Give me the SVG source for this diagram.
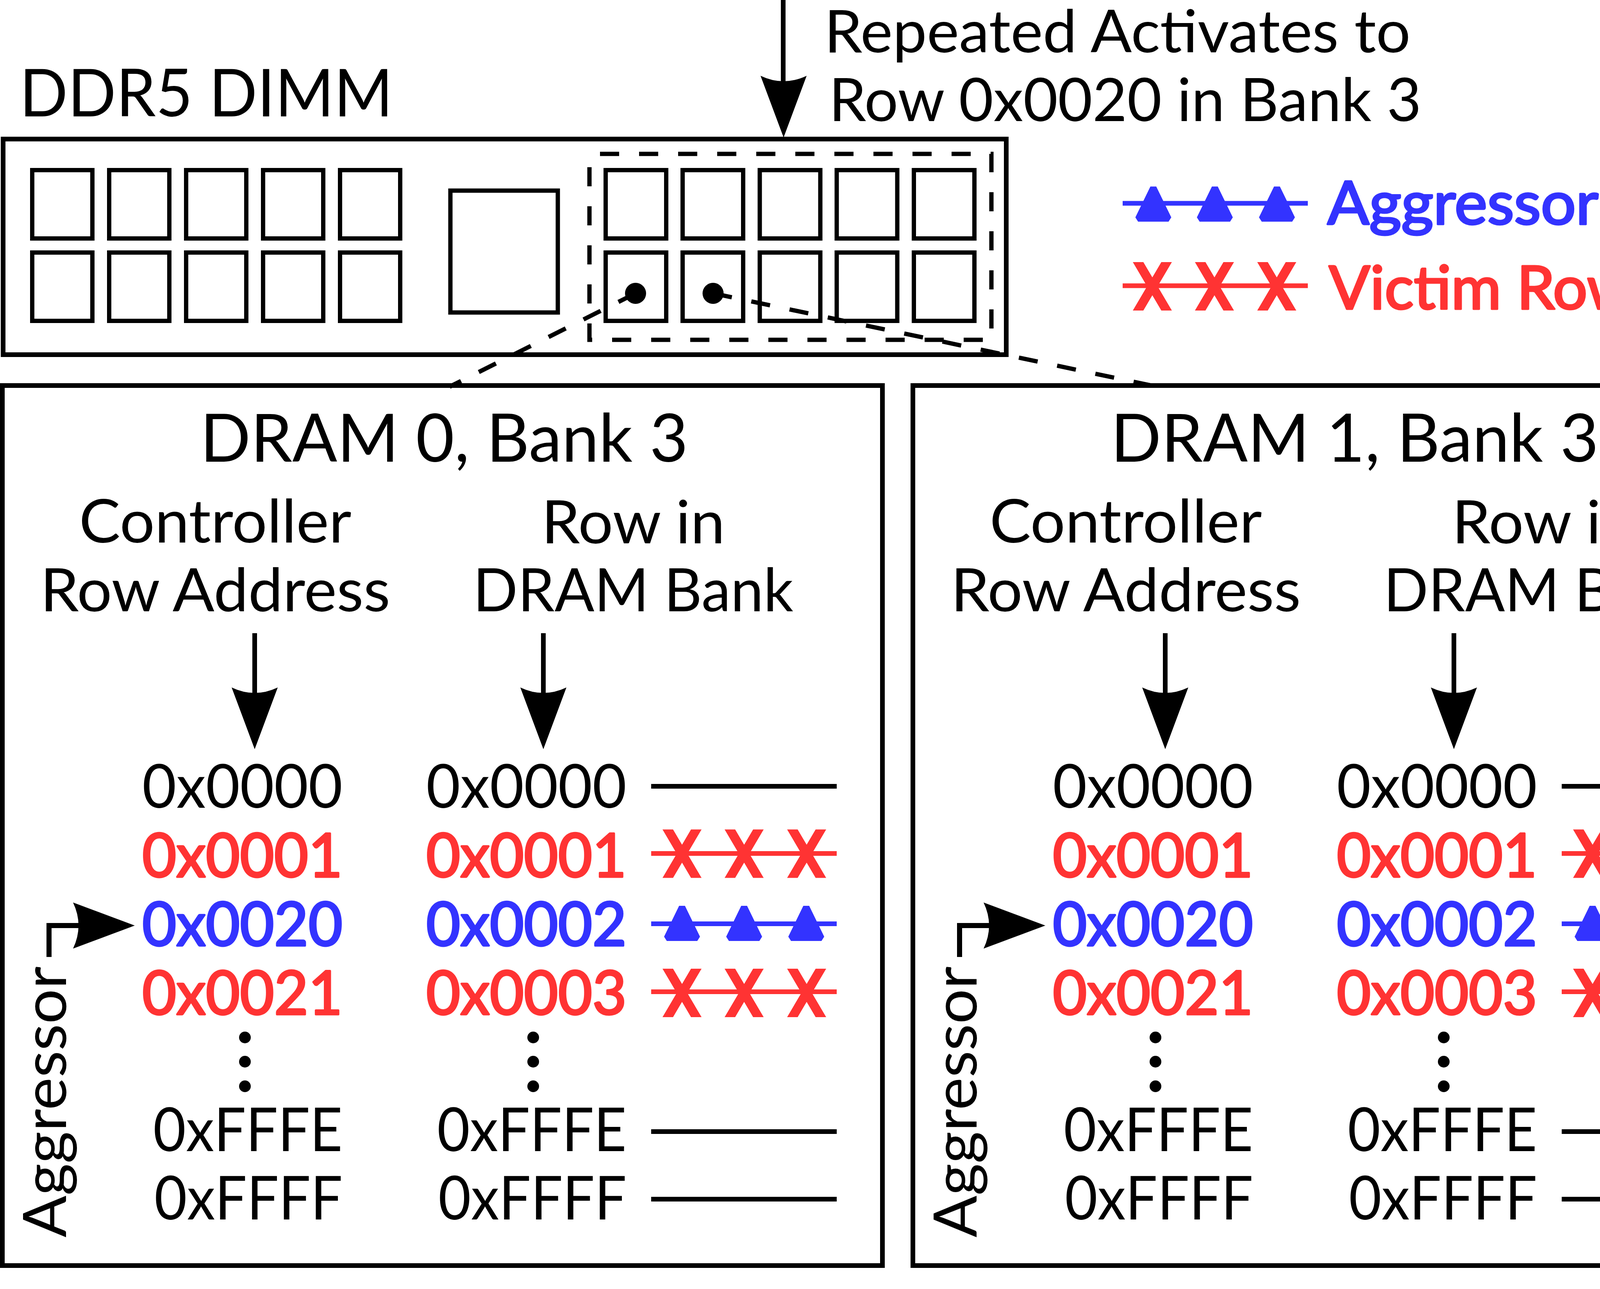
<svg xmlns="http://www.w3.org/2000/svg" xmlns:xlink="http://www.w3.org/1999/xlink" width="4608" height="3300" viewBox="0 0 4608 3300">
<style>
.t{font-family:Lato,"Open Sans","DejaVu Sans",sans-serif;fill:#000}
.r{fill:#FF3333;stroke:#FF3333;stroke-width:5;stroke-linejoin:round}
.b{fill:#3333FF;stroke:#3333FF;stroke-width:5;stroke-linejoin:round}
.box{fill:none;stroke:#000;stroke-width:12}
.chip{fill:none;stroke:#000;stroke-width:11}
.ln{fill:none;stroke:#000;stroke-width:12}
.dash{fill:none;stroke:#000;stroke-width:11;stroke-dasharray:49 51}
.rl{stroke:#FF3333;stroke-width:12}
.bl{stroke:#3333FF;stroke-width:12}
.hx{font-size:155px;text-anchor:end}
</style>
<defs>
<path id="ah" d="M0,0 L-59,-158 Q0,-130 59,-158 Z" fill="#000"/>
<path id="xm" d="M-50,-62 H-23 L50,62 H23 Z M23,-62 H50 L-23,62 H-50 Z" fill="#FF3333"/>
<path id="tri" d="M-7.5,-45 H7.5 L46,34 L39,45 H-39 L-46,34 Z" fill="#3333FF"/>
</defs>
<rect width="4608" height="3300" fill="#fff"/>

<g id="dimm-label">
<text class="t" x="50" y="298" font-size="169" textLength="956" lengthAdjust="spacingAndGlyphs">DDR5 DIMM</text>
</g>

<g id="activate-label">
<text class="t" x="2110" y="134" font-size="151" textLength="1501" lengthAdjust="spacingAndGlyphs">Repeated Activates to</text>
<text class="t" x="2122" y="310" font-size="153" textLength="1517" lengthAdjust="spacingAndGlyphs">Row 0x0020 in Bank 3</text>
</g>

<g id="dimm">
<rect class="box" x="8" y="356" width="2568" height="552"/>
<g id="chips-left">
<rect class="chip" x="82.5" y="435.5" width="154" height="175"/>
<rect class="chip" x="279.5" y="435.5" width="154" height="175"/>
<rect class="chip" x="476.5" y="435.5" width="154" height="175"/>
<rect class="chip" x="673.5" y="435.5" width="154" height="175"/>
<rect class="chip" x="870.5" y="435.5" width="154" height="175"/>
<rect class="chip" x="82.5" y="646.5" width="154" height="175"/>
<rect class="chip" x="279.5" y="646.5" width="154" height="175"/>
<rect class="chip" x="476.5" y="646.5" width="154" height="175"/>
<rect class="chip" x="673.5" y="646.5" width="154" height="175"/>
<rect class="chip" x="870.5" y="646.5" width="154" height="175"/>
</g>
<rect id="register" class="chip" x="1153" y="488" width="275" height="312"/>
<rect id="rank-box" class="dash" x="1509" y="394" width="1029" height="476" stroke-dashoffset="73"/>
<g id="chips-right">
<rect class="chip" x="1550.5" y="435.5" width="155" height="175"/>
<rect class="chip" x="1747.5" y="435.5" width="155" height="175"/>
<rect class="chip" x="1945" y="435.5" width="155" height="175"/>
<rect class="chip" x="2142" y="435.5" width="155" height="175"/>
<rect class="chip" x="2339.5" y="435.5" width="155" height="175"/>
<rect class="chip" x="1550.5" y="646.5" width="155" height="175"/>
<rect class="chip" x="1747.5" y="646.5" width="155" height="175"/>
<rect class="chip" x="1945" y="646.5" width="155" height="175"/>
<rect class="chip" x="2142" y="646.5" width="155" height="175"/>
<rect class="chip" x="2339.5" y="646.5" width="155" height="175"/>
</g>
<circle cx="1627" cy="751" r="27" fill="#000"/>
<circle cx="1825.5" cy="751" r="27" fill="#000"/>
</g>

<g id="legend-aggressor">
<line class="bl" x1="2874" y1="520.5" x2="3348" y2="520.5"/>
<use xlink:href="#tri" x="2952.5" y="522.5"/>
<use xlink:href="#tri" x="3110" y="522.5"/>
<use xlink:href="#tri" x="3269" y="522.5"/>
<text class="t b" x="3398" y="574" font-size="154" textLength="1038" lengthAdjust="spacingAndGlyphs">Aggressor Row</text>
</g>

<g id="legend-victim">
<line class="rl" x1="2874" y1="731.5" x2="3348" y2="731.5"/>
<use xlink:href="#xm" x="2950" y="733"/>
<use xlink:href="#xm" x="3109" y="733"/>
<use xlink:href="#xm" x="3268.5" y="733"/>
<text class="t r" x="3402" y="791" font-size="153" textLength="783" lengthAdjust="spacingAndGlyphs">Victim Row</text>
</g>

<g id="panel-dram0">
<rect class="box" x="6" y="987" width="2253" height="2253"/>
<text class="t" x="1137" y="1182" font-size="171" text-anchor="middle" textLength="1249" lengthAdjust="spacingAndGlyphs">DRAM 0, Bank 3</text>
<text class="t" x="551" y="1389" font-size="153" text-anchor="middle" textLength="697" lengthAdjust="spacingAndGlyphs">Controller</text>
<text class="t" x="551" y="1565" font-size="153" text-anchor="middle" textLength="896" lengthAdjust="spacingAndGlyphs">Row Address</text>
<text class="t" x="1621" y="1391" font-size="153" text-anchor="middle" textLength="470" lengthAdjust="spacingAndGlyphs">Row in</text>
<text class="t" x="1621" y="1565" font-size="153" text-anchor="middle" textLength="820" lengthAdjust="spacingAndGlyphs">DRAM Bank</text>
<text class="t hx" x="877" y="2068" textLength="513" lengthAdjust="spacingAndGlyphs">0x0000</text>
<text class="t hx r" x="877" y="2245" textLength="513" lengthAdjust="spacingAndGlyphs">0x0001</text>
<text class="t hx b" x="877" y="2421" textLength="513" lengthAdjust="spacingAndGlyphs">0x0020</text>
<text class="t hx r" x="877" y="2597" textLength="513" lengthAdjust="spacingAndGlyphs">0x0021</text>
<text class="t hx" x="877" y="2947" textLength="485" lengthAdjust="spacingAndGlyphs">0xFFFE</text>
<text class="t hx" x="877" y="3122" textLength="482" lengthAdjust="spacingAndGlyphs">0xFFFF</text>
<text class="t hx" x="1604" y="2068" textLength="513" lengthAdjust="spacingAndGlyphs">0x0000</text>
<text class="t hx r" x="1604" y="2245" textLength="513" lengthAdjust="spacingAndGlyphs">0x0001</text>
<text class="t hx b" x="1604" y="2421" textLength="513" lengthAdjust="spacingAndGlyphs">0x0002</text>
<text class="t hx r" x="1604" y="2597" textLength="513" lengthAdjust="spacingAndGlyphs">0x0003</text>
<text class="t hx" x="1604" y="2947" textLength="485" lengthAdjust="spacingAndGlyphs">0xFFFE</text>
<text class="t hx" x="1604" y="3122" textLength="482" lengthAdjust="spacingAndGlyphs">0xFFFF</text>
<circle cx="627" cy="2656" r="15"/><circle cx="627" cy="2718" r="15"/><circle cx="627" cy="2781" r="15"/>
<circle cx="1365" cy="2656" r="15"/><circle cx="1365" cy="2718" r="15"/><circle cx="1365" cy="2781" r="15"/>
<line class="ln" x1="1667" y1="2013" x2="2142" y2="2013"/>
<line class="rl" x1="1667" y1="2185" x2="2142" y2="2185"/>
<use xlink:href="#xm" x="1746" y="2185.5"/><use xlink:href="#xm" x="1905" y="2185.5"/><use xlink:href="#xm" x="2065" y="2185.5"/>
<line class="bl" x1="1667" y1="2365" x2="2142" y2="2365"/>
<use xlink:href="#tri" x="1746" y="2364"/><use xlink:href="#tri" x="1905" y="2364"/><use xlink:href="#tri" x="2064" y="2364"/>
<line class="rl" x1="1667" y1="2539" x2="2142" y2="2539"/>
<use xlink:href="#xm" x="1746" y="2542"/><use xlink:href="#xm" x="1905" y="2542"/><use xlink:href="#xm" x="2065" y="2542"/>
<line class="ln" x1="1667" y1="2897" x2="2142" y2="2897"/>
<line class="ln" x1="1667" y1="3070" x2="2142" y2="3070"/>
<text class="t" transform="translate(169,3166) rotate(-90)" x="-2" y="0" font-size="154" textLength="694" lengthAdjust="spacingAndGlyphs">Aggressor</text>
</g>

<g id="panel-dram1">
<rect class="box" x="2337" y="987" width="2259" height="2253"/>
<g transform="translate(2331,0)">
<text class="t" x="1137" y="1182" font-size="171" text-anchor="middle" textLength="1249" lengthAdjust="spacingAndGlyphs">DRAM 1, Bank 3</text>
<text class="t" x="551" y="1389" font-size="153" text-anchor="middle" textLength="697" lengthAdjust="spacingAndGlyphs">Controller</text>
<text class="t" x="551" y="1565" font-size="153" text-anchor="middle" textLength="896" lengthAdjust="spacingAndGlyphs">Row Address</text>
<text class="t" x="1621" y="1391" font-size="153" text-anchor="middle" textLength="470" lengthAdjust="spacingAndGlyphs">Row in</text>
<text class="t" x="1621" y="1565" font-size="153" text-anchor="middle" textLength="820" lengthAdjust="spacingAndGlyphs">DRAM Bank</text>
<text class="t hx" x="877" y="2068" textLength="513" lengthAdjust="spacingAndGlyphs">0x0000</text>
<text class="t hx r" x="877" y="2245" textLength="513" lengthAdjust="spacingAndGlyphs">0x0001</text>
<text class="t hx b" x="877" y="2421" textLength="513" lengthAdjust="spacingAndGlyphs">0x0020</text>
<text class="t hx r" x="877" y="2597" textLength="513" lengthAdjust="spacingAndGlyphs">0x0021</text>
<text class="t hx" x="877" y="2947" textLength="485" lengthAdjust="spacingAndGlyphs">0xFFFE</text>
<text class="t hx" x="877" y="3122" textLength="482" lengthAdjust="spacingAndGlyphs">0xFFFF</text>
<text class="t hx" x="1604" y="2068" textLength="513" lengthAdjust="spacingAndGlyphs">0x0000</text>
<text class="t hx r" x="1604" y="2245" textLength="513" lengthAdjust="spacingAndGlyphs">0x0001</text>
<text class="t hx b" x="1604" y="2421" textLength="513" lengthAdjust="spacingAndGlyphs">0x0002</text>
<text class="t hx r" x="1604" y="2597" textLength="513" lengthAdjust="spacingAndGlyphs">0x0003</text>
<text class="t hx" x="1604" y="2947" textLength="485" lengthAdjust="spacingAndGlyphs">0xFFFE</text>
<text class="t hx" x="1604" y="3122" textLength="482" lengthAdjust="spacingAndGlyphs">0xFFFF</text>
<circle cx="627" cy="2656" r="15"/><circle cx="627" cy="2718" r="15"/><circle cx="627" cy="2781" r="15"/>
<circle cx="1365" cy="2656" r="15"/><circle cx="1365" cy="2718" r="15"/><circle cx="1365" cy="2781" r="15"/>
<line class="ln" x1="1667" y1="2013" x2="2142" y2="2013"/>
<line class="rl" x1="1667" y1="2185" x2="2142" y2="2185"/>
<use xlink:href="#xm" x="1746" y="2185.5"/><use xlink:href="#xm" x="1905" y="2185.5"/><use xlink:href="#xm" x="2065" y="2185.5"/>
<line class="bl" x1="1667" y1="2365" x2="2142" y2="2365"/>
<use xlink:href="#tri" x="1746" y="2364"/><use xlink:href="#tri" x="1905" y="2364"/><use xlink:href="#tri" x="2064" y="2364"/>
<line class="rl" x1="1667" y1="2539" x2="2142" y2="2539"/>
<use xlink:href="#xm" x="1746" y="2542"/><use xlink:href="#xm" x="1905" y="2542"/><use xlink:href="#xm" x="2065" y="2542"/>
<line class="ln" x1="1667" y1="2897" x2="2142" y2="2897"/>
<line class="ln" x1="1667" y1="3070" x2="2142" y2="3070"/>
<text class="t" transform="translate(169,3166) rotate(-90)" x="-2" y="0" font-size="154" textLength="694" lengthAdjust="spacingAndGlyphs">Aggressor</text>
</g>
</g>

<g id="connectors">
<line class="ln" x1="2005" y1="0" x2="2005" y2="215"/>
<use xlink:href="#ah" transform="translate(2006,352)"/>
<line class="dash" x1="1627" y1="751" x2="1151" y2="990"/>
<line class="dash" x1="1825.5" y1="751" x2="2962" y2="990"/>
<g id="panel0-arrows">
<line class="ln" x1="652" y1="1621" x2="652" y2="1780"/>
<use xlink:href="#ah" transform="translate(652,1918)"/>
<line class="ln" x1="1391" y1="1621" x2="1391" y2="1780"/>
<use xlink:href="#ah" transform="translate(1391,1918)"/>
<path d="M125.5,2450 V2369.5 H205" fill="none" stroke="#000" stroke-width="13"/>
<use xlink:href="#ah" transform="translate(345,2369.5) rotate(-90)"/>
</g>
<g id="panel1-arrows" transform="translate(2331,0)">
<line class="ln" x1="652" y1="1621" x2="652" y2="1780"/>
<use xlink:href="#ah" transform="translate(652,1918)"/>
<line class="ln" x1="1391" y1="1621" x2="1391" y2="1780"/>
<use xlink:href="#ah" transform="translate(1391,1918)"/>
<path d="M125.5,2450 V2369.5 H205" fill="none" stroke="#000" stroke-width="13"/>
<use xlink:href="#ah" transform="translate(345,2369.5) rotate(-90)"/>
</g>
</g>
</svg>
